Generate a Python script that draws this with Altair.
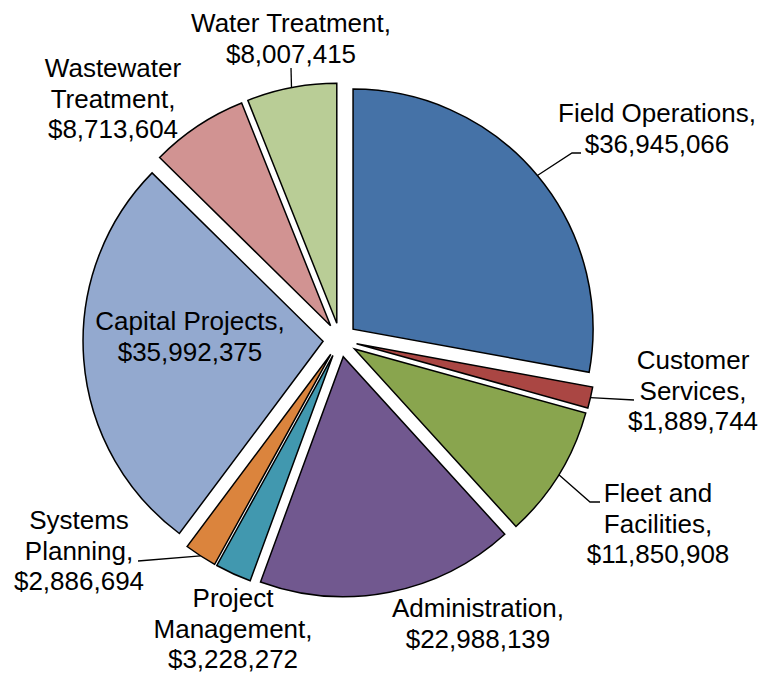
import math
import altair as alt
import pandas as pd

# ---- data ----
categories = ["Field Operations", "Customer Services", "Fleet and Facilities", "Administration",
              "Project Management", "Systems Planning", "Capital Projects",
              "Wastewater Treatment", "Water Treatment"]
values = [36945066, 1889744, 11850908, 22988139, 3228272, 2886694, 35992375, 8713604, 8007415]
colors = ["#4572A7", "#AA4643", "#89A54E", "#71588F", "#4198AF", "#DB843D",
          "#93A9CF", "#D19392", "#B9CD96"]

# how each category name is broken into lines in its label
name_lines = {
    "Field Operations": ["Field Operations,"],
    "Customer Services": ["Customer", "Services,"],
    "Fleet and Facilities": ["Fleet and", "Facilities,"],
    "Administration": ["Administration,"],
    "Project Management": ["Project", "Management,"],
    "Systems Planning": ["Systems", "Planning,"],
    "Capital Projects": ["Capital Projects,"],
    "Wastewater Treatment": ["Wastewater", "Treatment,"],
    "Water Treatment": ["Water Treatment,"],
}

# ---- layout (pixels, page coordinates) ----
W, H = 751, 665
PAGE = 8
CX, CY = 340 - PAGE, 340 - PAGE
R = 240
EXPLODE = 17
FS = 26
LH = 30.5
FONT = "Liberation Sans"

# label anchor: centre x, first baseline y
label_pos = {
    "Field Operations": (657, 122),
    "Customer Services": (693, 369),
    "Fleet and Facilities": (658, 502),
    "Administration": (478, 617),
    "Project Management": (233, 607),
    "Systems Planning": (79, 529),
    "Capital Projects": (190, 330),
    "Wastewater Treatment": (113, 77),
    "Water Treatment": (291, 32),
}
# leader line points after the slice-edge start point
leader_pts = {
    "Field Operations": [(572, 153), (581, 153)],
    "Customer Services": [(634, 400)],
    "Fleet and Facilities": [(590, 502), (600, 502)],
    "Systems Planning": [(138, 561)],
    "Water Treatment": [(291, 68)],
}

total = sum(values)
df = pd.DataFrame({"name": categories, "value": values, "idx": list(range(len(categories)))})

arcs = alt.Chart(df).transform_window(
    cum="sum(value)", sort=[alt.SortField("idx", order="ascending")], frame=[None, 0]
).transform_calculate(
    start="datum.cum - datum.value"
).transform_calculate(
    mid=f"(datum.cum - datum.value / 2) / {total} * 2 * PI"
).transform_calculate(
    px=f"{CX} + {EXPLODE} * sin(datum.mid)"
).transform_calculate(
    py=f"{CY} - {EXPLODE} * cos(datum.mid)"
).mark_arc(outerRadius=R, stroke="black", strokeWidth=1.5, strokeJoin="miter").encode(
    x=alt.X("px:Q", scale=None, axis=None),
    y=alt.Y("py:Q", scale=None, axis=None),
    theta=alt.Theta("start:Q", scale=alt.Scale(domain=[0, total], range=[0, 2 * math.pi]), stack=None),
    theta2="cum:Q",
    color=alt.Color("name:N", scale=alt.Scale(domain=categories, range=colors), legend=None),
)

# label lines
rows = []
for name, v in zip(categories, values):
    lines = name_lines[name] + [f"${v:,}"]
    lx, ly = label_pos[name]
    for i, t in enumerate(lines):
        rows.append({"name": name, "text": t, "x": lx - PAGE, "y": ly - PAGE + i * LH})
labels = alt.Chart(pd.DataFrame(rows)).mark_text(
    align="center", baseline="alphabetic", font=FONT, fontSize=FS, color="black"
).encode(
    x=alt.X("x:Q", scale=None, axis=None),
    y=alt.Y("y:Q", scale=None, axis=None),
    text="text:N",
)

# leader lines: start at the exploded slice edge at mid-angle
lrows = []
cum = 0
for name, v in zip(categories, values):
    mid = (cum + v / 2) / total * 2 * math.pi
    cum += v
    if name in leader_pts:
        sx = CX + (R + EXPLODE) * math.sin(mid)
        sy = CY - (R + EXPLODE) * math.cos(mid)
        pts = [(sx, sy)] + [(px - PAGE, py - PAGE) for px, py in leader_pts[name]]
        for k, (px, py) in enumerate(pts):
            lrows.append({"name": name, "k": k, "x": px, "y": py})
leaders = alt.Chart(pd.DataFrame(lrows)).mark_line(color="black", strokeWidth=1.3).encode(
    x=alt.X("x:Q", scale=None, axis=None),
    y=alt.Y("y:Q", scale=None, axis=None),
    detail="name:N",
    order="k:Q",
)

chart = alt.layer(arcs, leaders, labels).properties(
    width=W, height=H, padding=0, autosize=alt.AutoSizeParams(type="none"),
    background="white"
).configure_view(stroke=None)

chart.save("out.html", embed_options={"renderer": "svg", "actions": False})
